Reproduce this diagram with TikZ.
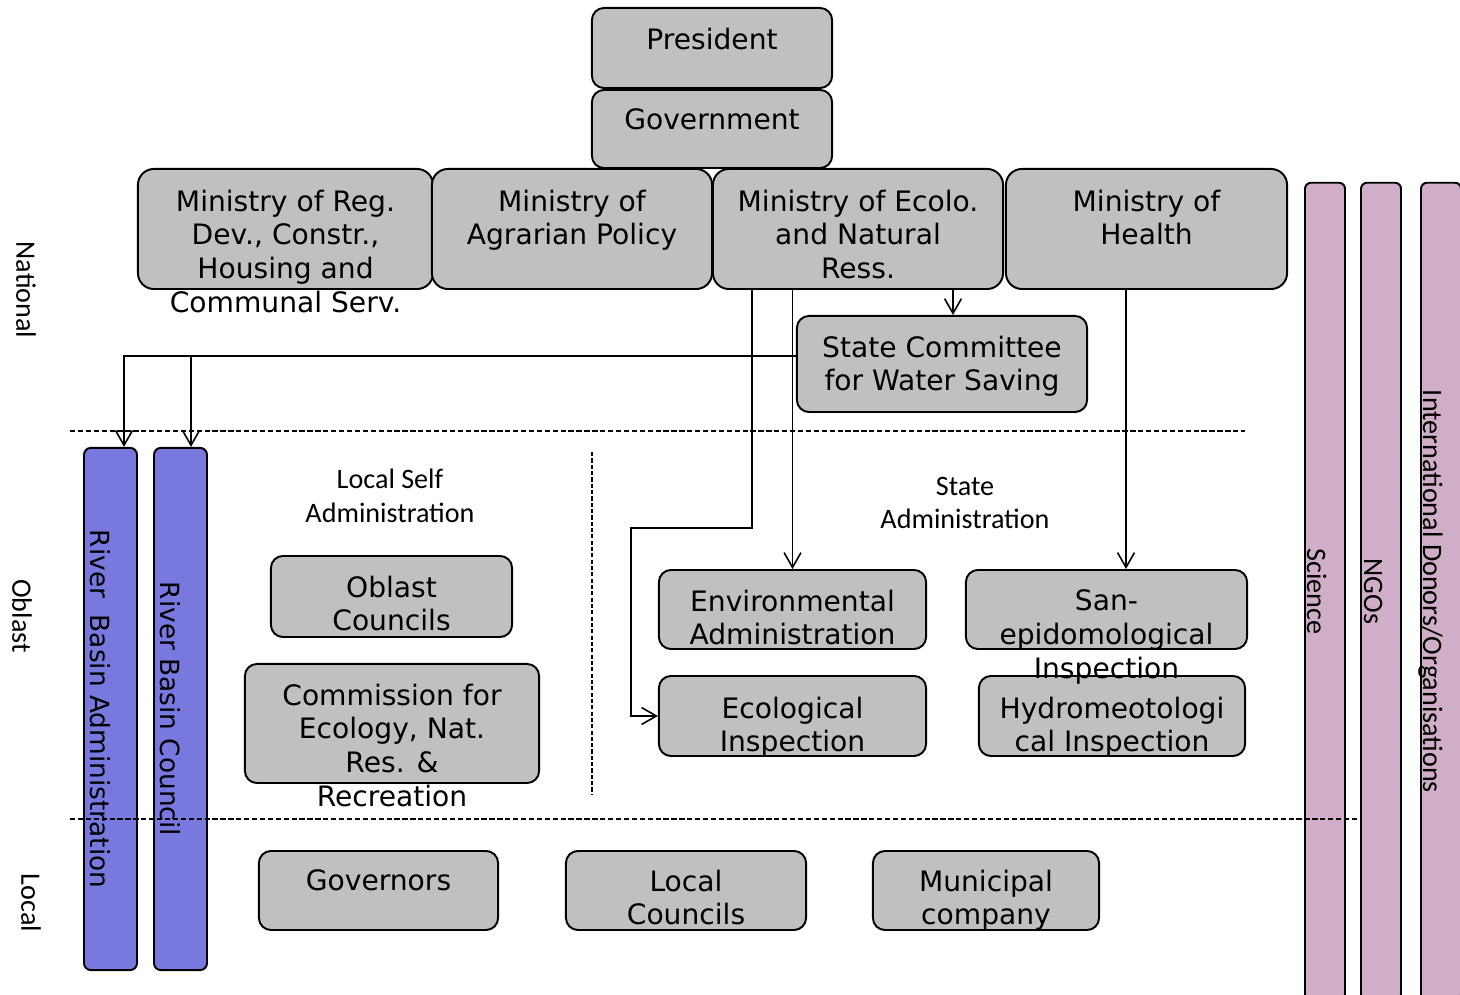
\documentclass[tikz,border=0pt]{standalone}
\usepackage{fontspec}
\setmainfont{DejaVu Sans}
\newfontfamily\carlitofont{Carlito}
\usetikzlibrary{arrows.meta}
\definecolor{boxgray}{RGB}{192,192,192}
\definecolor{basinblue}{RGB}{120,120,222}
\definecolor{actorpink}{RGB}{209,174,200}
\newcommand{\orgfont}{\fontsize{8}{9.64}\selectfont}
\newcommand{\basinfont}{\fontsize{7.5}{9}\selectfont}
\newcommand{\levelfont}{\carlitofont\fontsize{8}{9.64}\selectfont}

\begin{document}
\begin{tikzpicture}[x=0.01cm, y=-0.01cm,
        orgbox/.style={rectangle, draw=black, fill=boxgray, line width=0.55pt, rounded corners=0.12cm, inner sep=0pt},
        ministry/.style={orgbox, rounded corners=0.16cm, minimum height=1.2cm},
        boxtext/.style={anchor=north, align=center, inner sep=0pt, font=\orgfont},
        basinbar/.style={rectangle, draw=black, fill=basinblue, line width=0.55pt, rounded corners=0.07cm, inner sep=0pt, minimum width=0.53cm, minimum height=5.22cm},
        actorbar/.style={rectangle, draw=black, fill=actorpink, line width=0.55pt, rounded corners=0.06cm, inner sep=0pt, minimum width=0.4cm, minimum height=8.17cm},
        bartext/.style={rotate=-90, anchor=base, inner sep=0pt},
        levelname/.style={rotate=-90, inner sep=0pt, font=\levelfont},
        grouplabel/.style={align=center, inner sep=0pt, font=\levelfont},
        arrow/.style={-{Straight Barb[length=4.2pt,width=4.8pt]}, line width=0.45pt},
        levelline/.style={dash pattern=on 1.5pt off 0.75pt, line width=0.55pt},
        groupline/.style={dash pattern=on 1.2pt off 0.6pt, line width=0.5pt}
    ]
        \useasboundingbox (0,0) rectangle (1460,995);
        \clip (0,0) rectangle (1460,995);

        % national level
        \node[orgbox, minimum width=2.4cm, minimum height=0.8cm] (pres) at (712,48) {};
        \node[orgbox, minimum width=2.4cm, minimum height=0.78cm] (gov) at (712,129) {};
        \node[ministry, minimum width=2.95cm] (minreg) at (285.5,229) {};
        \node[ministry, minimum width=2.8cm] (minagr) at (572,229) {};
        \node[ministry, minimum width=2.9cm] (mineco) at (858,229) {};
        \node[ministry, minimum width=2.81cm] (minhea) at (1146.5,229) {};
        \node[orgbox, minimum width=2.9cm, minimum height=0.96cm] (water) at (942,364) {};

        % oblast level
        \node[orgbox, minimum width=2.41cm, minimum height=0.81cm] (oblcoun) at (391.5,596.5) {};
        \node[orgbox, minimum width=2.94cm, minimum height=1.19cm] (commis) at (392,723.5) {};
        \node[orgbox, minimum width=2.67cm, minimum height=0.79cm] (envadm) at (792.5,609.5) {};
        \node[orgbox, minimum width=2.81cm, minimum height=0.79cm] (saninsp) at (1106.5,609.5) {};
        \node[orgbox, minimum width=2.67cm, minimum height=0.8cm] (ecoinsp) at (792.5,716) {};
        \node[orgbox, minimum width=2.66cm, minimum height=0.8cm] (hydinsp) at (1112,716) {};

        % local level
        \node[orgbox, minimum width=2.39cm, minimum height=0.79cm] (govern) at (378.5,890.5) {};
        \node[orgbox, minimum width=2.4cm, minimum height=0.79cm] (loccoun) at (686,890.5) {};
        \node[orgbox, minimum width=2.26cm, minimum height=0.79cm] (munic) at (986,890.5) {};

        % box texts sit near the top edge
        \node[boxtext] (pres-t) at ([yshift=-0.2cm]pres.north) {President};
        \node[boxtext] (gov-t) at ([yshift=-0.19cm]gov.north) {Government};
        \node[boxtext] (minreg-t) at ([yshift=-0.21cm]minreg.north) {Ministry of Reg.\\Dev., Constr.,\\Housing and\\Communal Serv.};
        \node[boxtext] (minagr-t) at ([yshift=-0.21cm]minagr.north) {Ministry of\\Agrarian Policy};
        \node[boxtext] (mineco-t) at ([yshift=-0.21cm]mineco.north) {Ministry of Ecolo.\\and Natural\\Ress.};
        \node[boxtext] (minhea-t) at ([yshift=-0.21cm]minhea.north) {Ministry of\\Health};
        \node[boxtext] (water-t) at ([yshift=-0.2cm]water.north) {State Committee\\for Water Saving};
        \node[boxtext] (oblcoun-t) at ([yshift=-0.2cm]oblcoun.north) {Oblast\\Councils};
        \node[boxtext] (commis-t) at ([yshift=-0.2cm]commis.north) {Commission for\\Ecology, Nat.\\Res. \&\\Recreation};
        \node[boxtext] (envadm-t) at ([yshift=-0.2cm]envadm.north) {Environmental\\Administration};
        \node[boxtext] (ecoinsp-t) at ([yshift=-0.21cm]ecoinsp.north) {Ecological\\Inspection};
        \node[boxtext] (hydinsp-t) at ([yshift=-0.21cm]hydinsp.north) {Hydromeotologi\\cal Inspection};
        \node[boxtext] (saninsp-t) at ([yshift=-0.2cm]saninsp.north) {San-\\epidomological\\Inspection};
        \node[boxtext] (govern-t) at ([yshift=-0.19cm]govern.north) {Governors};
        \node[boxtext] (loccoun-t) at ([yshift=-0.19cm]loccoun.north) {Local\\Councils};
        \node[boxtext] (munic-t) at ([yshift=-0.19cm]munic.north) {Municipal\\company};

        % river basin bars
        \node[basinbar] (rba) at (110.5,709) {};
        \node[basinbar] (rbc) at (180.5,709) {};
        \node[bartext, font=\basinfont] (rba-t) at ([xshift=0.07cm]rba.west) {River~ Basin Administration};
        \node[bartext, font=\basinfont] (rbc-t) at ([xshift=0.07cm]rbc.west) {River Basin Council};

        % other actors on the right
        \node[actorbar] (science) at (1325,591.5) {};
        \node[actorbar] (ngos) at (1381,591.5) {};
        \node[actorbar] (donors) at (1441,591.5) {};
        \node[bartext, font=\levelfont] (science-t) at ([xshift=0.03cm]science.west) {Science};
        \node[bartext, font=\levelfont] (ngos-t) at ([xshift=0.04cm]ngos.west) {NGOs};
        \node[bartext, font=\levelfont] (donors-t) at ([xshift=0.03cm]donors.west) {International Donors/Organisations};

        % level names and group labels
        \node[levelname] (natl) at (26,290) {National};
        \node[levelname] (obl) at (22,616) {Oblast};
        \node[levelname] (loc) at (31,903) {Local};
        \node[grouplabel] (selfadm) at (390,496) {Local Self\\Administration};
        \node[grouplabel] (stateadm) at (965,503) {State\\Administration};

        % connectors
        \coordinate (wx) at (953,0);
        \coordinate (hx) at (1126,0);
        \coordinate (ex) at (752,0);
        \coordinate (ebend) at (631,528);
        \coordinate (wline) at ([yshift=0.08cm]water.west);
        \coordinate (rba-in) at ([xshift=0.135cm]rba.north);
        \coordinate (rbc-in) at ([xshift=0.105cm]rbc.north);
        \draw[arrow] (mineco.south -| wx) -- (water.north -| wx);
        \draw[arrow] (wline) -| (rba-in);
        \draw[arrow] (rbc-in |- wline) -- (rbc-in);
        \draw[arrow] (mineco.south -| envadm.north) -- (envadm.north);
        \draw[arrow] (minhea.south -| hx) -- (saninsp.north -| hx);
        \draw[arrow] (mineco.south -| ex) -- (ex |- ebend) -- (ebend) |- (ecoinsp.west);

        % level separators
        \draw[levelline] (70,431) -- (1245,431);
        \draw[levelline] (70,819) -- (1360,819);
        \draw[groupline] (592,452) -- (592,795);
    \end{tikzpicture}
\end{document}
